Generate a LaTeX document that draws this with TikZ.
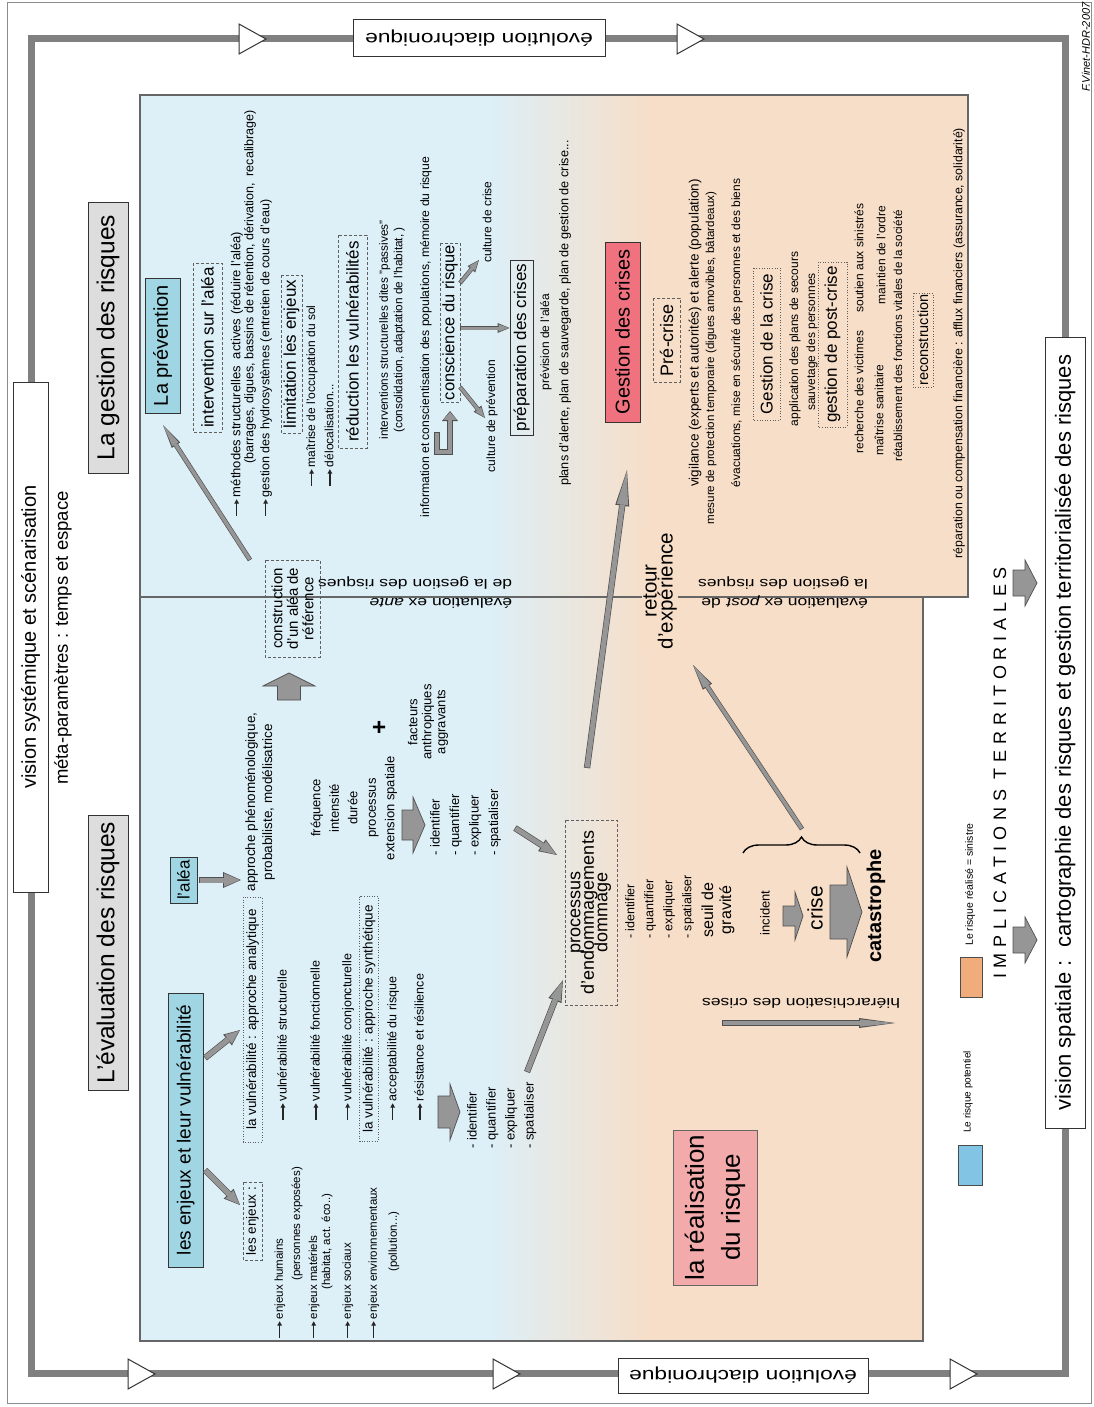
\documentclass[tikz,border=0pt]{standalone}
\usepackage{fontspec}
\setmainfont{Liberation Sans}
\newfontfamily\widefont{Liberation Sans}[FakeStretch=1.3]
\newfontfamily\spacedfont{Liberation Sans}[LetterSpace=32]
\usetikzlibrary{arrows.meta,decorations.pathreplacing,calc}
\definecolor{cblue}{RGB}{221,239,247}
\definecolor{cpeach}{RGB}{247,222,200}
\definecolor{framegray}{RGB}{128,128,128}
\definecolor{titlegray}{RGB}{221,221,221}
\definecolor{boxblue}{RGB}{160,214,228}
\definecolor{boxred}{RGB}{240,114,126}
\definecolor{boxpink}{RGB}{243,170,170}
\definecolor{legblue}{RGB}{130,196,228}
\definecolor{legorange}{RGB}{240,172,122}
\definecolor{arrfill}{RGB}{150,150,150}
\definecolor{arrdark}{RGB}{80,80,80}
\definecolor{dashc}{RGB}{95,95,95}
\newcommand\FS[2]{\fontsize{#1}{#2}\selectfont}
\newcommand\TightLines{\lineskiplimit=-30pt\relax\lineskip=0pt\relax}
\newcommand\Arr{\tikz[baseline=-0.55ex, x=1pt, y=1pt]\draw[black!85, line width=1.3pt, -{Triangle[length=4.5pt, width=4.5pt]}] (0,0) -- (17,0);\kern1.5pt}
\newcommand\GArr[4]{%
  \pgfmathsetmacro\gaw{#1+1.3}%
  \pgfmathsetmacro\gaL{#2-2.2}%
  \pgfmathsetmacro\gaW{#3-2.6}%
  \draw[arrdark, line width=\gaw pt, -{Triangle[length=#2pt, width=#3pt, line width=0pt]}] #4;%
  \draw[arrfill, line width=#1pt, shorten >=1.1pt, shorten <=0.65pt, -{Triangle[length=\gaL pt, width=\gaW pt, line width=0pt]}] #4;%
}
\newcommand\BArr[6]{%
  \draw[arrdark, fill=arrfill, line width=0.7pt] (#1,#2-#5) -- (#1+#3,#2-#5) -- (#1+#3,#2-#6) -- (#1+#3+#4,#2) -- (#1+#3,#2+#6) -- (#1+#3,#2+#5) -- (#1,#2+#5) -- cycle;}
\newcommand\TriMark[2]{\draw[black!80, fill=white, line width=1pt] (#1,#2-15) -- (#1+27,#2) -- (#1,#2+15) -- cycle;}
\tikzset{
  tx/.style={rotate=90, inner sep=0pt, align=center, font=\FS{12}{14}},
  ux/.style={rotate=180, inner sep=0pt, align=center},
  dashbox/.style={draw=dashc, dash pattern=on 3pt off 2pt, line width=0.8pt},
  dotbox/.style={draw=dashc, dash pattern=on 1pt off 1.6pt, line width=1pt},
  plainbox/.style={draw=black!80, line width=1pt},
}
\begin{document}
\begin{tikzpicture}[x=1pt, y=-1pt]
\useasboundingbox (0,0) rectangle (1094,1407);
\fill[white] (0,0) rectangle (1094,1407);
\draw[black!45, line width=1pt] (7,2.5) rectangle (1091.5,1403);

% panels
\fill[cblue] (140,95) rectangle (492,597);
\shade[left color=cblue, right color=cpeach] (490,95) rectangle (652,597);
\fill[cpeach] (650,95) rectangle (968,597);
\fill[cblue] (140,597) rectangle (492,1341);
\shade[left color=cblue, right color=cpeach] (490,597) rectangle (652,1341);
\fill[cpeach] (650,597) rectangle (923,1341);
\draw[black!60, line width=1.4pt] (140,95) rectangle (968,597);
\draw[black!60, line width=1.4pt] (140,597) rectangle (923,1341);

% frame
\draw[framegray, line width=7pt] (31,39) rectangle (1065,1373);
\TriMark{239}{39}
\TriMark{677}{39}
\TriMark{128}{1374}
\TriMark{493}{1374}
\TriMark{950}{1374}
\node[ux, plainbox, fill=white, minimum width=252pt, minimum height=37pt, font=\widefont\FS{17.5}{20}] (evoT) at (479,38.5) {évolution diachronique};
\node[ux, plainbox, fill=white, minimum width=250pt, minimum height=35pt, font=\widefont\FS{17.5}{20}] (evoB) at (743,1375.5) {évolution diachronique};
\node[tx, plainbox, fill=white, minimum width=510pt, minimum height=35pt, font=\FS{20}{24}] (vsys) at (30.5,637) {vision systémique et scénarisation};
\node[tx, plainbox, fill=white, minimum width=791pt, minimum height=40pt, font=\FS{22}{26}] (vspa) at (1065,732.5) {vision spatiale :\ \ cartographie des risques et gestion territorialisée des risques};
\node[tx, font=\FS{18.5}{22}] (meta) at (63,638) {méta-paramètres : temps et espace};
\node[tx, font=\itshape\FS{11}{13}] (fv) at (1086,47) {F.Vinet-HDR-2007};

% titles
\node[tx, plainbox, fill=titlegray, minimum width=271pt, minimum height=40pt, font=\FS{24.5}{28}] (gest) at (108,337.5) {La gestion des risques};
\node[tx, plainbox, fill=titlegray, minimum width=275pt, minimum height=40pt, font=\FS{24.5}{28}] (eval) at (108,952.5) {L'évaluation des risques};

% ===== gestion (upper) =====
\node[tx, plainbox, fill=boxblue, minimum width=135pt, minimum height=35pt, font=\FS{20}{24}] (prev) at (162.5,345.5) {La prévention};
\node[tx, dashbox, minimum width=169pt, minimum height=29pt, font=\FS{17}{20}] (interv) at (207.5,347.5) {intervention sur l'aléa};
\node[tx, anchor=west, font=\FS{13}{15}] (meth) at (237,517) {\Arr méthodes structurelles\ \ actives (réduire l'aléa)};
\node[tx, font=\FS{12.5}{15}] (barr) at (250,287) {(barrages, digues, bassins de rétention, dérivation,\ \ recalibrage)};
\node[tx, anchor=west, font=\FS{12.5}{15}] (hydro) at (266,517) {\Arr gestion des hydrosystèmes (entretien de cours d'eau)};
\node[tx, dashbox, minimum width=158pt, minimum height=21pt, font=\FS{17}{20}] (limit) at (291.5,354) {limitation les enjeux};
\node[tx, anchor=west] (maitr) at (312,487) {\Arr maîtrise de l'occupation du sol};
\node[tx, anchor=west] (deloc) at (329,487) {\Arr délocalisation...};
\node[tx, dashbox, minimum width=213pt, minimum height=29pt, font=\FS{17}{20}] (reduc) at (352.5,341.5) {réduction les vulnérabilités};
\node[tx, font=\FS{11.8}{14.5}] (passiv) at (392,330) {interventions structurelles dites "passives"\\(consolidation, adaptation de l'habitat, )};
\node[tx, font=\FS{12.2}{14}] (info) at (426,337) {information et conscientisation des populations, mémoire du risque};
\node[tx, dashbox, minimum width=159pt, minimum height=20pt, font=\FS{16.5}{19}] (consc) at (450,322.5) {conscience du risque};
\node[tx] (cprev) at (492,416) {culture de prévention};
\node[tx] (ccrise) at (487,222) {culture de crise};
\node[tx, plainbox, minimum width=175pt, minimum height=23pt, font=\FS{17}{20}] (prep) at (521.5,347.5) {préparation des crises};
\node[tx] (previs) at (546,342) {prévision de l'aléa};
\node[tx, font=\FS{12.7}{14}] (plans) at (565,313) {plans d'alerte, plan de sauvegarde, plan de gestion de crise...};
\node[tx, plainbox, fill=boxred, minimum width=180pt, minimum height=35pt, font=\FS{20}{24}] (gcrise) at (622.5,332) {Gestion des crises};
\node[tx, dashbox, minimum width=84pt, minimum height=27pt, font=\FS{18}{21}] (prec) at (666.5,340) {Pré-crise};
\node[tx, font=\FS{13.5}{15}] (vigil) at (695,333) {vigilance (experts et autorités) et alerte (population)};
\node[tx, font=\FS{11.6}{14}] (mesure) at (711,358) {mesure de protection temporaire (digues amovibles, bâtardeaux)};
\node[tx, font=\FS{12}{14}] (evac) at (737,333) {évacuations, mise en sécurité des personnes et des biens};
\node[tx, dotbox, minimum width=152pt, minimum height=27pt, font=\FS{17}{20}] (gdlc) at (766.5,344) {Gestion de la crise};
\node[tx, font=\FS{12}{14}] (appl) at (795,339) {application des plans de secours};
\node[tx, font=\FS{12}{14}] (sauv) at (812,342) {sauvetage des personnes};
\node[tx, dotbox, minimum width=165pt, minimum height=29pt, font=\FS{17}{20}] (gpost) at (832.5,344.5) {gestion de post-crise};
\node[tx] (rech) at (859,392) {recherche des victimes};
\node[tx] (sout) at (859,258) {soutien aux sinistrés};
\node[tx] (msan) at (879,410) {maîtrise sanitaire};
\node[tx] (mord) at (881,255) {maintien de l'ordre};
\node[tx, font=\FS{11.6}{14}] (retab) at (898,336) {rétablissement des fonctions vitales de la société};
\node[tx, dotbox, minimum width=94pt, minimum height=20pt, font=\FS{14.5}{17}] (recon) at (923,340) {reconstruction};
\node[tx, font=\FS{12.3}{14}] (repar) at (959,343) {réparation ou compensation financière : afflux financiers (assurance, solidarité)};

% divider labels
\node[ux, align=left, font=\widefont\FS{13.5}{19}] (exante) at (415,593) {évaluation ex \textit{ante}\\de la gestion des risques};
\node[ux, align=left, font=\widefont\FS{13.5}{19}] (expost) at (783,593) {évaluation ex \textit{post} de\\la gestion des risques};
\node[tx, fill=cpeach, inner sep=1pt, font=\FS{20.5}{16}] (retour) at (660,591) {retour\\d'expérience};

% ===== évaluation (lower) =====
\node[tx, plainbox, fill=boxblue, minimum width=274pt, minimum height=35pt, font=\FS{19}{22}] (enjv) at (185.5,1130) {les enjeux et leur vulnérabilité};
\node[tx, plainbox, fill=boxblue, minimum width=46pt, minimum height=27pt, font=\FS{17}{20}] (alea) at (183.5,880) {l'aléa};
\node[tx, font=\FS{13.5}{17}] (appr) at (260,802) {approche phénoménologique,\\probabiliste, modélisatrice};
\node[tx, dotbox, minimum width=245pt, minimum height=19pt, font=\FS{13.5}{16}] (vana) at (252.5,1019.5) {la vulnérabilité : approche analytique};
\node[tx, dashbox, minimum width=78pt, minimum height=19pt, font=\FS{13.5}{16}] (lesenj) at (252.5,1221) {les enjeux :};
\node[tx, anchor=west, font=\FS{11.5}{13}] (ehum) at (280,1339) {\Arr enjeux humains};
\node[tx, anchor=west, font=\FS{11.5}{13}] (ehum2) at (297,1281) {(personnes exposées)};
\node[tx, anchor=west, font=\FS{11.5}{13}] (emat) at (314,1339) {\Arr enjeux matériels};
\node[tx, anchor=west, font=\FS{11.5}{13}] (emat2) at (327,1290) {(habitat, act. éco..)};
\node[tx, anchor=west, font=\FS{11.5}{13}] (esoc) at (348,1339) {\Arr enjeux sociaux};
\node[tx, anchor=west, font=\FS{11.5}{13}] (eenv) at (374,1339) {\Arr enjeux environnementaux};
\node[tx, anchor=west, font=\FS{11.5}{13}] (eenv2) at (394,1272) {(pollution...)};
\node[tx, anchor=west, font=\FS{12.5}{14}] (vstruc) at (282,1121) {\Arr vulnérabilité structurelle};
\node[tx, anchor=west, font=\FS{12.5}{14}] (vfonc) at (315,1121) {\Arr vulnérabilité fonctionnelle};
\node[tx, anchor=west, font=\FS{12.5}{14}] (vconj) at (348,1121) {\Arr vulnérabilité conjoncturelle};
\node[tx, dotbox, minimum width=245pt, minimum height=19pt, font=\FS{13.5}{16}] (vsyn) at (369,1019) {la vulnérabilité : approche synthétique};
\node[tx, anchor=west, font=\FS{12.5}{14}] (vacc) at (393,1121) {\Arr acceptabilité du risque};
\node[tx, anchor=west, font=\FS{12.5}{14}] (vres) at (419,1121) {\Arr résistance et résilience};

\node[tx, font=\FS{13}{18.5}] (freq) at (354,808) {fréquence\\intensité\\durée\\processus\\extension spatiale};
\node[tx, font=\bfseries\FS{24}{24}] (plus) at (380,727) {+};
\node[tx, font=\FS{13}{14}] (fact) at (428,722) {facteurs\\anthropiques\\aggravants};
\BArr{402}{825}{11}{12}{15}{28}
\node[tx, anchor=north west, align=left, font=\FS{13}{19.5}] (alist) at (430,856) {- identifier\\- quantifier\\- expliquer\\- spatialiser};
\BArr{438}{1112}{12}{10}{16}{28}
\node[tx, anchor=north west, align=left, font=\FS{13}{19}] (elist) at (467,1149) {- identifier\\- quantifier\\- expliquer\\- spatialiser};

\node[tx, dashbox, minimum width=185pt, minimum height=52pt, font=\FS{18}{13.5}\TightLines] (dom) at (591,912.5) {processus\\d'endommagements\\dommage};
\node[tx, anchor=north west, align=left, font=\FS{12.5}{19}] (dlist) at (625,939) {- identifier\\- quantifier\\- expliquer\\- spatialiser};
\node[tx, font=\FS{16}{18}] (seuil) at (718,910) {seuil de\\gravité};
\node[tx, font=\FS{13}{15}] (incid) at (765,913) {incident};
\BArr{783}{916}{12}{8}{10}{24}
\node[tx, font=\FS{21}{24}] (crise) at (815,908) {crise};
\BArr{830}{912}{17}{15}{27}{45}
\node[tx, font=\bfseries\FS{20}{24}] (catas) at (876,906) {catastrophe};
\coordinate (brL) at (743,853);
\coordinate (brR) at (860,853);
\draw[decorate, decoration={brace, amplitude=16pt}, line width=1.4pt] (brL) -- (brR);

\node[ux, font=\widefont\FS{13.5}{16}] (hier) at (801,1003) {hiérarchisation des crises};
\node[tx, plainbox, draw=black!60, fill=boxpink, minimum width=155pt, minimum height=84pt, font=\FS{26}{36}] (real) at (715,1207.5) {la réalisation\\du risque};

% construction
\node[tx, dashbox, minimum width=97pt, minimum height=55pt, font=\FS{15}{15.5}] (constr) at (292.5,608.5) {construction\\d'un aléa de\\référence};
\draw[arrdark, fill=arrfill, line width=0.7pt] (289,673) -- (315,686) -- (300.5,686) -- (300.5,700) -- (277.5,700) -- (277.5,686) -- (263,686) -- cycle;

% legend
\draw[black!70, fill=legblue] (958,1145) rectangle (982,1185);
\node[tx, anchor=west, font=\FS{10}{12}] (lpot) at (968,1133) {Le risque potentiel};
\draw[black!70, fill=legorange] (960,957) rectangle (982,997);
\node[tx, anchor=west, font=\FS{10.5}{12}] (lreal) at (970,946) {Le risque réalisé = sinistre};

\node[tx, font=\spacedfont\FS{18}{20}] (impl) at (1000,773) {IMPLICATIONS TERRITORIALES};
\BArr{1013}{940}{12}{12}{13}{23}
\BArr{1013}{583}{12}{12}{13}{23}

% gray connectors
\coordinate (a1s) at (250,560); \coordinate (a1e) at (163,425);
\GArr{3.5}{24}{10}{(a1s) -- (a1e)}
\coordinate (a2s) at (587,768); \coordinate (a2e) at (627,470);
\GArr{5}{36}{14}{(a2s) -- (a2e)}
\coordinate (a3s) at (802,829); \coordinate (a3e) at (693,665);
\GArr{3.5}{26}{11}{(a3s) -- (a3e)}
\coordinate (a4s) at (205,1170); \coordinate (a4e) at (240,1205);
\GArr{5}{16}{14}{(a4s) -- (a4e)}
\coordinate (a5s) at (205,1058); \coordinate (a5e) at (240,1030);
\GArr{5}{16}{14}{(a5s) -- (a5e)}
\coordinate (a6s) at (199,880); \coordinate (a6e) at (241,880);
\GArr{5}{18}{16}{(a6s) -- (a6e)}
\coordinate (a7s) at (515,828); \coordinate (a7e) at (557,855);
\GArr{5}{18}{14}{(a7s) -- (a7e)}
\coordinate (a8s) at (527,1072); \coordinate (a8e) at (563,980);
\GArr{5}{22}{14}{(a8s) -- (a8e)}
\coordinate (hA) at (722,1023); \coordinate (hB) at (895,1023);
\GArr{4.5}{36}{10}{(hA) -- (hB)}
\coordinate (c1) at (460,387); \coordinate (c1e) at (485,418);
\GArr{3}{12}{10}{(c1) -- (c1e)}
\coordinate (c2) at (460,283); \coordinate (c2e) at (479,260);
\GArr{3}{12}{10}{(c2) -- (c2e)}
\coordinate (c3) at (460,328); \coordinate (c3e) at (prep.north |- c3);
\GArr{3}{12}{10}{(c3) -- (c3e)}
\coordinate (l1) at (437,432); \coordinate (l2) at (437,452); \coordinate (l3) at (450,452); \coordinate (l4) at (450,411);
\GArr{4.5}{10}{16}{(l1) -- (l2) -- (l3) -- (l4)}
\end{tikzpicture}
\end{document}
